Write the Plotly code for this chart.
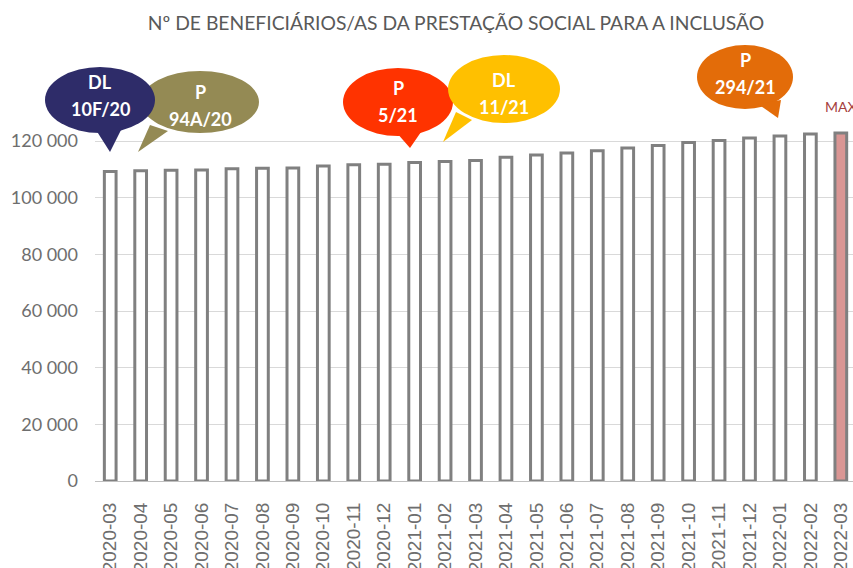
import plotly.graph_objects as go

months = ["2020-03", "2020-04", "2020-05", "2020-06", "2020-07", "2020-08", "2020-09",
          "2020-10", "2020-11", "2020-12", "2021-01", "2021-02", "2021-03", "2021-04",
          "2021-05", "2021-06", "2021-07", "2021-08", "2021-09", "2021-10", "2021-11",
          "2021-12", "2022-01", "2022-02", "2022-03"]
beneficiarios = [109200, 109500, 109700, 109800, 110200, 110400, 110500, 111200, 111600,
                 111800, 112400, 112800, 113100, 114300, 115100, 115800, 116600, 117500,
                 118400, 119500, 120200, 121100, 121800, 122500, 122800]
y_ticks = [0, 20000, 40000, 60000, 80000, 100000, 120000]
y_tick_labels = ["0", "20 000", "40 000", "60 000", "80 000", "100 000", "120 000"]
title_text = "Nº DE BENEFICIÁRIOS/AS DA PRESTAÇÃO SOCIAL PARA A INCLUSÃO"

W, H = 853, 568
L, R, T, B = 95, 0, 56, 87
PW, PH = W - L - R, H - T - B


def pp(x, y):
    return (x - L) / PW, (H - B - y) / PH


bar_colors = ["#FFFFFF"] * (len(months) - 1) + ["#DA9694"]

fig = go.Figure()
fig.add_trace(go.Bar(
    x=months, y=beneficiarios, width=0.385,
    marker=dict(color=bar_colors, line=dict(color="#808080", width=3)),
    hoverinfo="x+y",
))

# callouts: (label1, label2, color, ellipse cx, cy, rx, ry, tail pts, text y1, y2)
callouts = [
    ("P", "94A/20", "#948A54", 200, 102, 59, 31, [(150, 125), (168, 131), (138, 152)], 92, 119),
    ("DL", "10F/20", "#2E2C69", 100, 100, 55, 33, [(96, 130), (121, 130), (110, 152)], 82, 109),
    ("P", "5/21", "#FF3300", 398, 102, 55, 34, [(396, 132), (421, 132), (410, 148)], 88, 115),
    ("DL", "11/21", "#FFC000", 504, 89, 56, 34, [(456, 112), (472, 120), (443, 142)], 80, 107),
    ("P", "294/21", "#E36C09", 745, 77, 48, 32, [(758, 104), (781, 100), (778, 118)], 60, 87),
]

shapes = []
annotations = []
for t1, t2, col, cx, cy, rx, ry, tail, ty1, ty2 in callouts:
    x0, y0 = pp(cx - rx, cy + ry)
    x1, y1 = pp(cx + rx, cy - ry)
    shapes.append(dict(type="circle", xref="paper", yref="paper", x0=x0, x1=x1, y0=y0, y1=y1,
                       fillcolor=col, line=dict(width=0), layer="above"))
    pts = [pp(a, b) for a, b in tail]
    path = "M {} {} L {} {} L {} {} Z".format(pts[0][0], pts[0][1], pts[1][0], pts[1][1], pts[2][0], pts[2][1])
    shapes.append(dict(type="path", xref="paper", yref="paper", path=path,
                       fillcolor=col, line=dict(width=0), layer="above"))
    for txt, ty in ((t1, ty1), (t2, ty2)):
        ax, ay = pp(cx, ty)
        annotations.append(dict(text="<b>" + txt + "</b>", x=ax, y=ay, xref="paper", yref="paper",
                                xanchor="center", yanchor="middle", showarrow=False,
                                font=dict(family="Lato", size=18, color="white")))

annotations.append(dict(text="MAX", x=months[-1], y=beneficiarios[-1], xref="x", yref="y",
                        xanchor="center", yanchor="bottom", yshift=16, showarrow=False,
                        font=dict(family="Lato", size=14, color="#A5403D")))

fig.update_layout(
    width=W, height=H,
    margin=dict(l=L, r=R, t=T, b=B, pad=0, autoexpand=False),
    paper_bgcolor="white", plot_bgcolor="white",
    showlegend=False,
    title=dict(text=title_text, x=456 / W, xanchor="center", y=1 - 23 / H, yanchor="middle",
               xref="container", yref="container", automargin=False,
               font=dict(family="Lato", size=19.3, color="#595959")),
    bargap=0.6,
    shapes=shapes,
    annotations=annotations,
)
fig.update_xaxes(type="category", range=[-0.5, 24.4], tickangle=-90, automargin=False,
                 tickfont=dict(family="Liberation Sans", size=19, color="#6E6E6E"),
                 showline=True, linecolor="#BFBFBF", linewidth=1, showgrid=False,
                 ticks="", ticklabelstandoff=13)
fig.update_yaxes(range=[0, 150000], tickvals=y_ticks, ticktext=y_tick_labels, automargin=False,
                 tickfont=dict(family="Lato", size=18, color="#6E6E6E"),
                 showgrid=True, gridcolor="#D9D9D9", gridwidth=1, zeroline=False,
                 showline=False, ticks="", ticklabelstandoff=16)

fig.write_html("out.html", config={"displayModeBar": False},
               post_script="document.body.style.margin='0';document.body.style.overflow='hidden';")
